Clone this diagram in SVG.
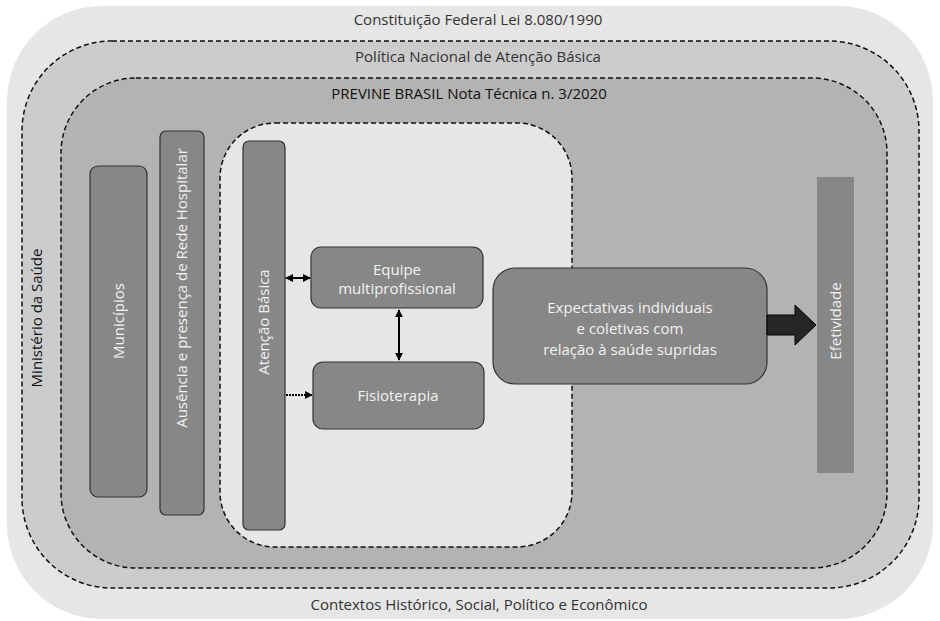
<svg xmlns="http://www.w3.org/2000/svg" width="940" height="621" viewBox="0 0 940 621">
<defs>
<style>
.dash{stroke:#111;stroke-width:1.5;stroke-dasharray:5 3;}
.box{fill:#878787;stroke:#333;stroke-width:1.2;}
.t{font-family:"Open Sans","Noto Sans",sans-serif;font-size:15px;text-anchor:middle;}
.lbl{fill:#333;}
.w{fill:#f2f2f2;}
.ln{stroke:#000;stroke-width:2;fill:none;}
</style>
<marker id="ah" viewBox="0 0 10 10" refX="9" refY="5" markerWidth="4" markerHeight="4" orient="auto-start-reverse">
<path d="M0,0 L10,5 L0,10 z" fill="#000"/>
</marker>
</defs>
<rect width="940" height="621" fill="#ffffff"/>
<g id="constituicao">
<rect x="7" y="6" width="926" height="613" rx="95" fill="#e6e6e6"/>
<text class="t lbl" x="478" y="25">Constituição Federal Lei 8.080/1990</text>
<text class="t lbl" x="479" y="610">Contextos Histórico, Social, Político e Econômico</text>
</g>
<g id="politica">
<rect class="dash" x="22" y="41" width="897" height="547" rx="90" fill="#cccccc"/>
<text class="t lbl" x="478" y="62">Política Nacional de Atenção Básica</text>
<text class="t" fill="#111" transform="translate(42,318) rotate(-90)">Ministério da Saúde</text>
</g>
<g id="previne">
<rect class="dash" x="61" y="78" width="826" height="490" rx="75" fill="#b3b3b3"/>
<text class="t" fill="#111" x="469" y="99">PREVINE BRASIL Nota Técnica n. 3/2020</text>
</g>
<g id="inner">
<rect class="dash" x="220" y="123" width="352" height="424" rx="55" fill="#e6e6e6"/>
</g>
<g id="municipios">
<rect class="box" x="90" y="166" width="57" height="331" rx="8"/>
<text class="t w" transform="translate(124,321) rotate(-90)">Municípios</text>
</g>
<g id="ausencia">
<rect class="box" x="160" y="131" width="44" height="384" rx="6"/>
<text class="t w" transform="translate(187,288) rotate(-90)">Ausência e presença de Rede Hospitalar</text>
</g>
<g id="atencao">
<rect class="box" x="243" y="141" width="42" height="389" rx="6"/>
<text class="t w" transform="translate(269,322) rotate(-90)">Atenção Básica</text>
</g>
<g id="equipe">
<rect class="box" x="311" y="247" width="172" height="61" rx="10"/>
<text class="t w" x="397" y="275">Equipe</text>
<text class="t w" x="397" y="294">multiprofissional</text>
</g>
<g id="fisioterapia">
<rect class="box" x="313" y="362" width="171" height="67" rx="10"/>
<text class="t w" x="398" y="401">Fisioterapia</text>
</g>
<g id="expectativas">
<rect class="box" x="493" y="268" width="274" height="116" rx="22"/>
<text class="t w" x="630" y="313">Expectativas individuais</text>
<text class="t w" x="630" y="334">e coletivas com</text>
<text class="t w" x="630" y="355">relação à saúde supridas</text>
</g>
<g id="efetividade">
<rect x="817" y="177" width="37" height="296" fill="#878787"/>
<text class="t w" transform="translate(841,321) rotate(-90)">Efetividade</text>
</g>
<g id="connectors">
<line class="ln" x1="286" y1="278" x2="310" y2="278" marker-start="url(#ah)" marker-end="url(#ah)"/>
<line class="ln" x1="399" y1="310" x2="399" y2="360" marker-start="url(#ah)" marker-end="url(#ah)"/>
<line class="ln" x1="286" y1="395" x2="312" y2="395" stroke-dasharray="2 1" marker-end="url(#ah)"/>
<path d="M767,315 L795,315 L795,305 L816,325 L795,345 L795,335 L767,335 z" fill="#262626" stroke="#000" stroke-width="1"/>
</g>
</svg>
